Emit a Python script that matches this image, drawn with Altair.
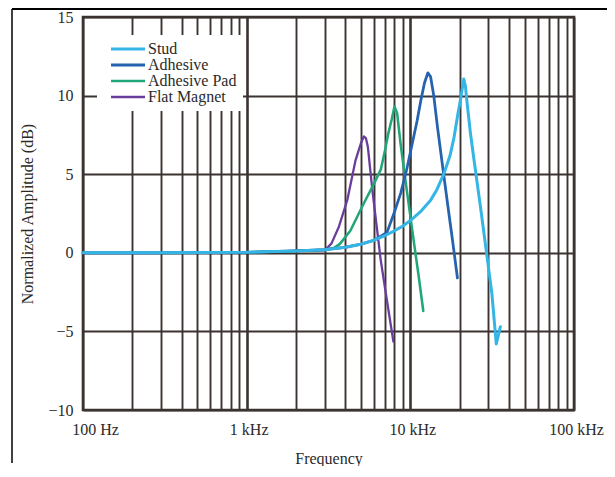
import altair as alt
import pandas as pd

# ---- data ----
series_names = ["Stud", "Adhesive", "Adhesive Pad", "Flat Magnet"]
series_colors = ["#35b5e5", "#2563ae", "#21a67a", "#6a3d9c"]
series_widths = [3.0, 2.3, 2.3, 2.3]

stud_freq = [100, 300, 1000, 2000, 3000, 4000, 5000, 6000, 7000, 8000, 9000, 10000,
             11500, 13300, 14500, 16000, 17500, 18500, 19500, 20300, 20800, 21200,
             21700, 22300, 23300, 24500, 27000, 29600, 31500, 33500, 35500]
stud_db = [0, 0, 0.03, 0.12, 0.2, 0.35, 0.55, 0.8, 1.1, 1.4, 1.7, 2.05,
           2.6, 3.35, 4.0, 5.0, 6.2, 7.35, 8.8, 9.8, 10.5, 11.05,
           10.6, 9.4, 7.6, 5.9, 2.7, -0.45, -2.6, -5.8, -4.7]

adh_freq = [100, 300, 1000, 2000, 3000, 4000, 5000, 6000, 7200, 8000, 8736, 9500,
            10300, 11000, 11600, 12200, 12800, 13300, 13900, 14650, 15700, 16870,
            18100, 19400]
adh_db = [0, 0, 0.03, 0.12, 0.2, 0.35, 0.55, 0.8, 1.3, 2.6, 3.8, 5.3,
          7.0, 8.4, 9.7, 10.8, 11.45, 11.2, 10.0, 8.0, 5.6, 3.15,
          0.8, -1.6]

pad_freq = [100, 300, 1000, 2000, 3000, 3400, 3700, 4300, 5200, 6000, 6600, 7000,
            7300, 7700, 8000, 8300, 8700, 9150, 9800, 10540, 11300, 12000]
pad_db = [0, 0, 0.03, 0.12, 0.2, 0.3, 0.55, 1.4, 3.15, 4.4, 5.3, 6.5,
          7.5, 8.5, 9.3, 8.9, 7.0, 5.27, 3.0, 0.6, -1.65, -3.7]

mag_freq = [100, 300, 1000, 2000, 3000, 3300, 3660, 4120, 4630, 5000, 5200, 5350,
            5500, 5860, 6590, 7200, 7880]
mag_db = [0, 0, 0.03, 0.12, 0.15, 0.6, 1.66, 3.36, 5.9, 7.0, 7.4, 7.3,
          6.75, 4.0, -0.45, -3.05, -5.65]

x_tick_values = [100, 200, 300, 400, 500, 600, 700, 800, 900,
                 1000, 2000, 3000, 4000, 5000, 6000, 7000, 8000, 9000,
                 10000, 20000, 30000, 40000, 50000, 60000, 70000, 80000, 90000,
                 100000]
x_label_values = [100, 1000, 10000, 100000]
x_label_texts = ["100 Hz", "1 kHz", "10 kHz", "100 kHz"]
y_tick_values = [-10, -5, 0, 5, 10, 15]

# ---- build table ----
rows = []
for name, fr, db in [("Flat Magnet", mag_freq, mag_db),
                     ("Adhesive Pad", pad_freq, pad_db),
                     ("Adhesive", adh_freq, adh_db),
                     ("Stud", stud_freq, stud_db)]:
    for f, d in zip(fr, db):
        rows.append({"series": name, "freq": f, "db": d})
df = pd.DataFrame(rows)

label_expr = " : ".join(
    f"datum.value == {v} ? '{t}'" for v, t in zip(x_label_values, x_label_texts)
) + " : ''"

FONT = "Liberation Serif"
GRID = "#3a3330"
TEXT = "#2a2a2a"

lines = alt.Chart(df).mark_line(strokeCap="round", strokeJoin="round").encode(
    x=alt.X("freq:Q",
            scale=alt.Scale(type="log", domain=[100, 100000], nice=False),
            axis=alt.Axis(values=x_tick_values, labelExpr=label_expr, grid=True,
                          gridColor=GRID, gridOpacity=1,
                          gridWidth={"condition": {"test": "datum.value == 1000 || datum.value == 10000",
                                                   "value": 2.6}, "value": 1.9},
                          ticks=False, domain=False,
                          labelFont=FONT, labelFontSize=16, labelColor=TEXT,
                          labelPadding=11, labelOverlap=False, labelBound=False,
                          labelFlush=False,
                          labelOffset={"condition": {"test": "datum.value == 100", "value": 12},
                                       "value": 2},
                          title="Frequency", titleFont=FONT, titleFontSize=16,
                          titleFontWeight="normal", titleColor=TEXT, titlePadding=13)),
    y=alt.Y("db:Q",
            scale=alt.Scale(domain=[-10, 15], nice=False, zero=False),
            axis=alt.Axis(values=y_tick_values, grid=True, gridColor=GRID, gridOpacity=1,
                          gridWidth=1.9, ticks=False, domain=False,
                          labelFont=FONT, labelFontSize=16, labelColor=TEXT,
                          labelPadding=10,
                          title="Normalized Amplitude (dB)", titleFont=FONT,
                          titleFontSize=16, titleFontWeight="normal", titleColor=TEXT,
                          titlePadding=12)),
    color=alt.Color("series:N",
                    scale=alt.Scale(domain=series_names, range=series_colors),
                    legend=alt.Legend(title=None, orient="none", legendX=14, legendY=18,
                                      fillColor="white", padding=6, symbolOffset=6,
                                      symbolType="M-1,0H4.667", symbolSize=144,
                                      symbolStrokeWidth=2.6, labelOffset=23,
                                      rowPadding=0, labelFont=FONT, labelFontSize=16,
                                      labelColor=TEXT)),
    strokeWidth=alt.StrokeWidth("series:N",
                                scale=alt.Scale(domain=series_names, range=series_widths),
                                legend=None),
)

# decorative frame around the figure (top and left edges)
frame_data = pd.DataFrame({"k": [0]})
top_rule = alt.Chart(frame_data).mark_rule(stroke="#000000", strokeWidth=2).encode(
    x=alt.value(-71), x2=alt.value(524), y=alt.value(-8))
left_rule = alt.Chart(frame_data).mark_rule(stroke="#000000", strokeWidth=1.5).encode(
    x=alt.value(-71), y=alt.value(-8), y2=alt.value(446))

chart = alt.layer(lines, top_rule, left_rule).properties(
    width=491, height=393,
    autosize=alt.AutoSizeParams(type="none"),
    padding={"left": 75, "top": 9, "right": 33, "bottom": 56},
).configure_view(stroke=GRID, strokeWidth=2.6)

chart.save("out.html", embed_options={"renderer": "svg", "actions": False})
